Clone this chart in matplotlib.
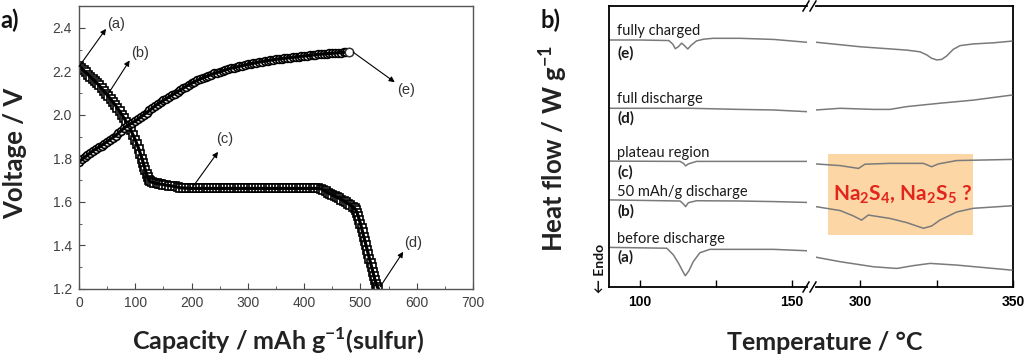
import matplotlib.pyplot as plt
from matplotlib.patches import Rectangle
from matplotlib.lines import Line2D

# ---------------- panel a: discharge / charge curves ----------------
dis_cap = [0, 4, 8, 12, 16, 20, 24, 28, 32, 36, 40, 44, 48, 52, 56, 60, 64, 68, 72, 76,
           80, 84, 88, 92, 96, 100, 103, 106, 109, 112, 114, 116, 118, 120, 122, 124, 126, 130, 134, 138,
           142, 146, 150, 155, 160, 165, 170, 175, 180, 185, 190, 195, 200, 205, 210, 215, 220, 225, 230, 235,
           240, 245, 250, 255, 260, 265, 270, 275, 280, 285, 290, 295, 300, 305, 310, 315, 320, 325, 330, 335,
           340, 345, 350, 355, 360, 365, 370, 375, 380, 385, 390, 395, 400, 405, 410, 415, 420, 425, 430, 434,
           438, 442, 446, 450, 454, 458, 462, 466, 470, 474, 478, 482, 486, 490, 492, 494, 496, 498, 500, 502,
           504, 506, 508, 510, 512, 514, 516, 518, 520, 522, 524, 526, 528, 530, 532]
dis_v = [2.225, 2.215, 2.205, 2.195, 2.185, 2.175, 2.165, 2.155, 2.145, 2.135, 2.122, 2.110, 2.098, 2.086, 2.073, 2.060, 2.046, 2.032, 2.017, 2.001,
         1.985, 1.968, 1.950, 1.930, 1.908, 1.885, 1.865, 1.845, 1.822, 1.798, 1.780, 1.762, 1.745, 1.728, 1.714, 1.703, 1.695, 1.690, 1.687, 1.685,
         1.683, 1.681, 1.679, 1.677, 1.675, 1.673, 1.671, 1.668, 1.665, 1.664, 1.663, 1.663, 1.662, 1.662, 1.662, 1.662, 1.662, 1.662, 1.662, 1.662,
         1.662, 1.662, 1.662, 1.662, 1.662, 1.662, 1.662, 1.662, 1.662, 1.662, 1.662, 1.662, 1.662, 1.662, 1.662, 1.662, 1.662, 1.662, 1.662, 1.662,
         1.662, 1.662, 1.662, 1.662, 1.662, 1.662, 1.662, 1.662, 1.662, 1.662, 1.662, 1.662, 1.662, 1.662, 1.662, 1.662, 1.662, 1.662, 1.660, 1.655,
         1.648, 1.642, 1.637, 1.632, 1.627, 1.622, 1.617, 1.611, 1.605, 1.599, 1.592, 1.585, 1.578, 1.570, 1.562, 1.550, 1.535, 1.518, 1.500, 1.480,
         1.460, 1.440, 1.420, 1.400, 1.380, 1.360, 1.340, 1.320, 1.300, 1.280, 1.260, 1.240, 1.225, 1.210, 1.200]

chg_cap = [0, 5, 10, 15, 20, 25, 30, 35, 40, 45, 50, 55, 60, 65, 70, 75, 80, 85, 90, 95,
           100, 105, 110, 115, 120, 125, 130, 135, 140, 145, 150, 155, 160, 165, 170, 175, 180, 185, 190, 195,
           200, 205, 210, 215, 220, 225, 230, 235, 240, 245, 250, 255, 260, 265, 270, 275, 280, 285, 290, 295,
           300, 305, 310, 315, 320, 325, 330, 335, 340, 345, 350, 355, 360, 365, 370, 375, 380, 385, 390, 395,
           400, 405, 410, 415, 420, 425, 430, 435, 440, 445, 450, 455, 460, 465, 470, 475, 480]
chg_v = [1.785, 1.795, 1.805, 1.815, 1.825, 1.835, 1.843, 1.851, 1.859, 1.868, 1.877, 1.886, 1.895, 1.905, 1.916, 1.928, 1.939, 1.948, 1.956, 1.964,
         1.972, 1.980, 1.990, 2.000, 2.010, 2.020, 2.030, 2.040, 2.050, 2.058, 2.066, 2.074, 2.082, 2.090, 2.098, 2.106, 2.114, 2.122, 2.130, 2.138,
         2.145, 2.152, 2.158, 2.164, 2.170, 2.175, 2.180, 2.185, 2.190, 2.194, 2.198, 2.202, 2.206, 2.210, 2.214, 2.217, 2.220, 2.223, 2.226, 2.229,
         2.232, 2.235, 2.237, 2.240, 2.242, 2.245, 2.247, 2.249, 2.251, 2.253, 2.255, 2.257, 2.258, 2.260, 2.261, 2.263, 2.264, 2.266, 2.267, 2.269,
         2.270, 2.272, 2.273, 2.275, 2.276, 2.278, 2.279, 2.280, 2.281, 2.282, 2.283, 2.284, 2.285, 2.286, 2.287, 2.288, 2.290]

# ---------------- panel b: DSC traces (two temperature windows) ----------------
e_lo_t = [89.8, 100, 109.5, 110.8, 111.6, 112.6, 113.7, 114.7, 115.7, 116.8, 118.6, 121, 124, 133, 144, 154.8]
e_lo_hf = [8.79, 8.79, 8.77, 8.64, 8.48, 8.55, 8.68, 8.58, 8.47, 8.60, 8.76, 8.82, 8.85, 8.85, 8.81, 8.71]
e_hi_t = [285.6, 300, 315.3, 319.6, 321.8, 323.4, 325.1, 326.7, 328.3, 330.5, 332.7, 337.0, 343.6, 349.6]
e_hi_hf = [8.71, 8.55, 8.43, 8.37, 8.26, 8.14, 8.08, 8.10, 8.22, 8.46, 8.59, 8.65, 8.69, 8.75]

d_lo_t = [89.8, 116.4, 132.9, 143.9, 154.8]
d_lo_hf = [6.36, 6.36, 6.32, 6.30, 6.24]
d_hi_t = [285.6, 293.5, 304.4, 309.8, 315.3, 326.1, 337.0, 349.6]
d_hi_hf = [6.30, 6.36, 6.32, 6.32, 6.42, 6.54, 6.65, 6.83]

c_lo_t = [89.8, 113.2, 114.3, 115.0, 115.9, 118.6, 154.8]
c_lo_hf = [4.48, 4.47, 4.40, 4.31, 4.38, 4.47, 4.47]
c_hi_t = [285.6, 293.5, 299.5, 301.6, 309.8, 320.7, 323.4, 325.6, 331.6, 349.6]
c_hi_hf = [4.38, 4.32, 4.22, 4.37, 4.40, 4.40, 4.28, 4.38, 4.50, 4.54]

b_lo_t = [89.8, 113.2, 114.3, 115.0, 115.9, 118.6, 132.9, 143.9, 154.8]
b_lo_hf = [3.10, 3.06, 2.95, 2.86, 3.00, 3.07, 3.06, 3.04, 3.01]
b_hi_t = [285.6, 293.5, 297.8, 300.5, 302.7, 309.8, 315.3, 320.7, 323.4, 326.1, 331.6, 337.0, 349.6]
b_hi_hf = [2.86, 2.72, 2.53, 2.38, 2.56, 2.44, 2.29, 2.09, 2.17, 2.38, 2.67, 2.80, 2.89]

a_lo_t = [89.8, 108.8, 111.0, 112.7, 114.1, 114.9, 116.1, 117.5, 119.7, 123.0, 132.9, 143.9, 154.8]
a_lo_hf = [1.41, 1.38, 1.14, 0.84, 0.55, 0.40, 0.58, 0.90, 1.22, 1.34, 1.34, 1.34, 1.29]
a_hi_t = [285.6, 293.5, 304.4, 312.0, 317.4, 322.9, 331.6, 349.6]
a_hi_hf = [1.06, 0.90, 0.72, 0.66, 0.76, 0.84, 0.78, 0.60]

dsc_names = ['fully charged', 'full discharge', 'plateau region', '50 mAh/g discharge', 'before discharge']
dsc_tags = ['(e)', '(d)', '(c)', '(b)', '(a)']


def fx(px):
    return px / 1024


def fy(py):
    return 1 - py / 356


fig = plt.figure(figsize=(10.24, 3.56), dpi=100)

# ---- panel a ----
ax = fig.add_axes([fx(79), fy(289), fx(473) - fx(79), fy(6) - fy(289)])
ax.plot(dis_cap, dis_v, 's', ms=5.2, mfc='white', mec='black', mew=1.2)
ax.plot(dis_cap, dis_v, '-', color='black', lw=2.3)
ax.plot(chg_cap, chg_v, 'o', ms=5.6, mfc='white', mec='black', mew=1.2)
ax.plot(chg_cap, chg_v, '-', color='black', lw=2.3)
ax.plot(chg_cap[-1], chg_v[-1], 'o', ms=6, mfc='white', mec='#333333', mew=1)
ax.set_xlim(0, 700)
ax.set_ylim(1.2, 2.5)
ax.set_xticks([0, 100, 200, 300, 400, 500, 600, 700])
ax.set_xticks([50, 150, 250, 350, 450, 550, 650], minor=True)
ax.set_yticks([1.2, 1.4, 1.6, 1.8, 2.0, 2.2, 2.4])
ax.set_yticks([1.3, 1.5, 1.7, 1.9, 2.1, 2.3], minor=True)
ax.tick_params(which='both', direction='in', top=False, right=False, color='#444444',
               labelsize=10, labelcolor='#404040', pad=5)
ax.tick_params(which='major', length=4)
ax.tick_params(which='minor', length=2)
for lab in ax.get_xticklabels() + ax.get_yticklabels():
    lab.set_fontfamily('Liberation Sans')
for s in ax.spines.values():
    s.set_color('#555555')
    s.set_linewidth(1)

arrow = dict(arrowstyle='-|>', color='black', lw=0.8, mutation_scale=8, shrinkA=0, shrinkB=0)
notes = [('(a)', (0, 2.222), (48, 2.395), (50, 2.418), 'left'),
         ('(b)', (52, 2.097), (90, 2.25), (93, 2.282), 'left'),
         ('(c)', (203, 1.672), (247, 1.83), (259, 1.888), 'center'),
         ('(d)', (535, 1.21), (576, 1.371), (593, 1.41), 'center'),
         ('(e)', (487, 2.288), (561, 2.15), (581, 2.113), 'center')]
for txt, tail, head, pos, ha in notes:
    ax.annotate('', xy=head, xytext=tail, arrowprops=arrow)
    ax.text(pos[0], pos[1], txt, ha=ha, va='center', fontsize=10.5,
            family='Liberation Sans', color='#333333')

fig.text(fx(15), fy(153), 'Voltage / V', rotation=90, ha='center', va='center',
         fontsize=18.5, fontweight='bold', family='Lato', color='#222222')
fig.text(fx(278), fy(350), r'Capacity / mAh g$^{\mathregular{-1}}$(sulfur)', ha='center',
         va='baseline', fontsize=18, fontweight='bold', family='Lato', color='#222222')
fig.text(fx(0), fy(20), 'a)', ha='left', va='center', fontsize=17, fontweight='bold',
         family='Lato', color='#111111')

# ---- panel b: broken temperature axis ----
axl = fig.add_axes([fx(609), fy(287), fx(807) - fx(609), fy(6) - fy(287)])
axr = fig.add_axes([fx(816), fy(287), fx(1013) - fx(816), fy(6) - fy(287)])
lo_sets = [(e_lo_t, e_lo_hf), (d_lo_t, d_lo_hf), (c_lo_t, c_lo_hf), (b_lo_t, b_lo_hf), (a_lo_t, a_lo_hf)]
hi_sets = [(e_hi_t, e_hi_hf), (d_hi_t, d_hi_hf), (c_hi_t, c_hi_hf), (b_hi_t, b_hi_hf), (a_hi_t, a_hi_hf)]
for t, hf in lo_sets:
    axl.plot(t, hf, color='#7a7a7a', lw=1.1)
for t, hf in hi_sets:
    axr.plot(t, hf, color='#7a7a7a', lw=1.1, zorder=3)

axl.set_xlim(89.8, 154.93)
axr.set_xlim(285.6, 350)
for a in (axl, axr):
    a.set_ylim(0, 10)
    a.set_yticks([])
    a.tick_params(axis='x', direction='in', length=5, width=1, pad=6, labelsize=10)
    for s in a.spines.values():
        s.set_linewidth(1.3)
        s.set_color('black')
axl.spines['right'].set_visible(False)
axr.spines['left'].set_visible(False)
axl.set_xticks([100, 125, 150], ['100', '', '150'])
axr.set_xticks([300, 325, 350], ['300', '', '350'])
for lab in axl.get_xticklabels() + axr.get_xticklabels():
    lab.set_fontfamily('Liberation Sans')
    lab.set_fontweight('bold')

name_y = [8.97, 6.55, 4.64, 3.24, 1.57]
tag_y = [8.32, 5.99, 4.09, 2.68, 1.06]
for name, tag, ny, ty in zip(dsc_names, dsc_tags, name_y, tag_y):
    axl.text(92.5, ny, name, ha='left', va='baseline', fontsize=10.5, family='Lato', color='#1a1a1a')
    axl.text(92.5, ty, tag, ha='left', va='center', fontsize=11, family='Lato',
             fontweight='bold', color='#1a1a1a')

axr.add_patch(Rectangle((289.5, 1.85), 47.4, 2.88, facecolor='#fdd6a6', edgecolor='none', zorder=1))
axr.text(313.9, 3.31, r'$\mathregular{Na_2S_4}$, $\mathregular{Na_2S_5}$ ?', ha='center', va='center',
         fontsize=15, fontweight='bold', family='Lato', color='#e1261c', zorder=4)

# break marks
for ybase in (6, 287):
    for x0 in (803, 810):
        fig.add_artist(Line2D([fx(x0), fx(x0 + 6)], [fy(ybase + 5), fy(ybase - 5)],
                              color='black', lw=1.1))

fig.text(fx(600), fy(293), '\u2190 Endo', rotation=90, ha='center', va='bottom', fontsize=10,
         fontweight='bold', family=['Lato', 'DejaVu Sans'], color='#111111')
fig.text(fx(553), fy(148), r'Heat flow / W g$^{\mathregular{-1}}$', rotation=90, ha='center',
         va='center', fontsize=18.5, fontweight='bold', family='Lato', color='#222222')
fig.text(fx(825), fy(350), 'Temperature / \u00b0C', ha='center', va='baseline', fontsize=18,
         fontweight='bold', family='Lato', color='#222222')
fig.text(fx(540), fy(20), 'b)', ha='left', va='center', fontsize=17, fontweight='bold',
         family='Lato', color='#111111')

fig.savefig('out.png', dpi=100)
